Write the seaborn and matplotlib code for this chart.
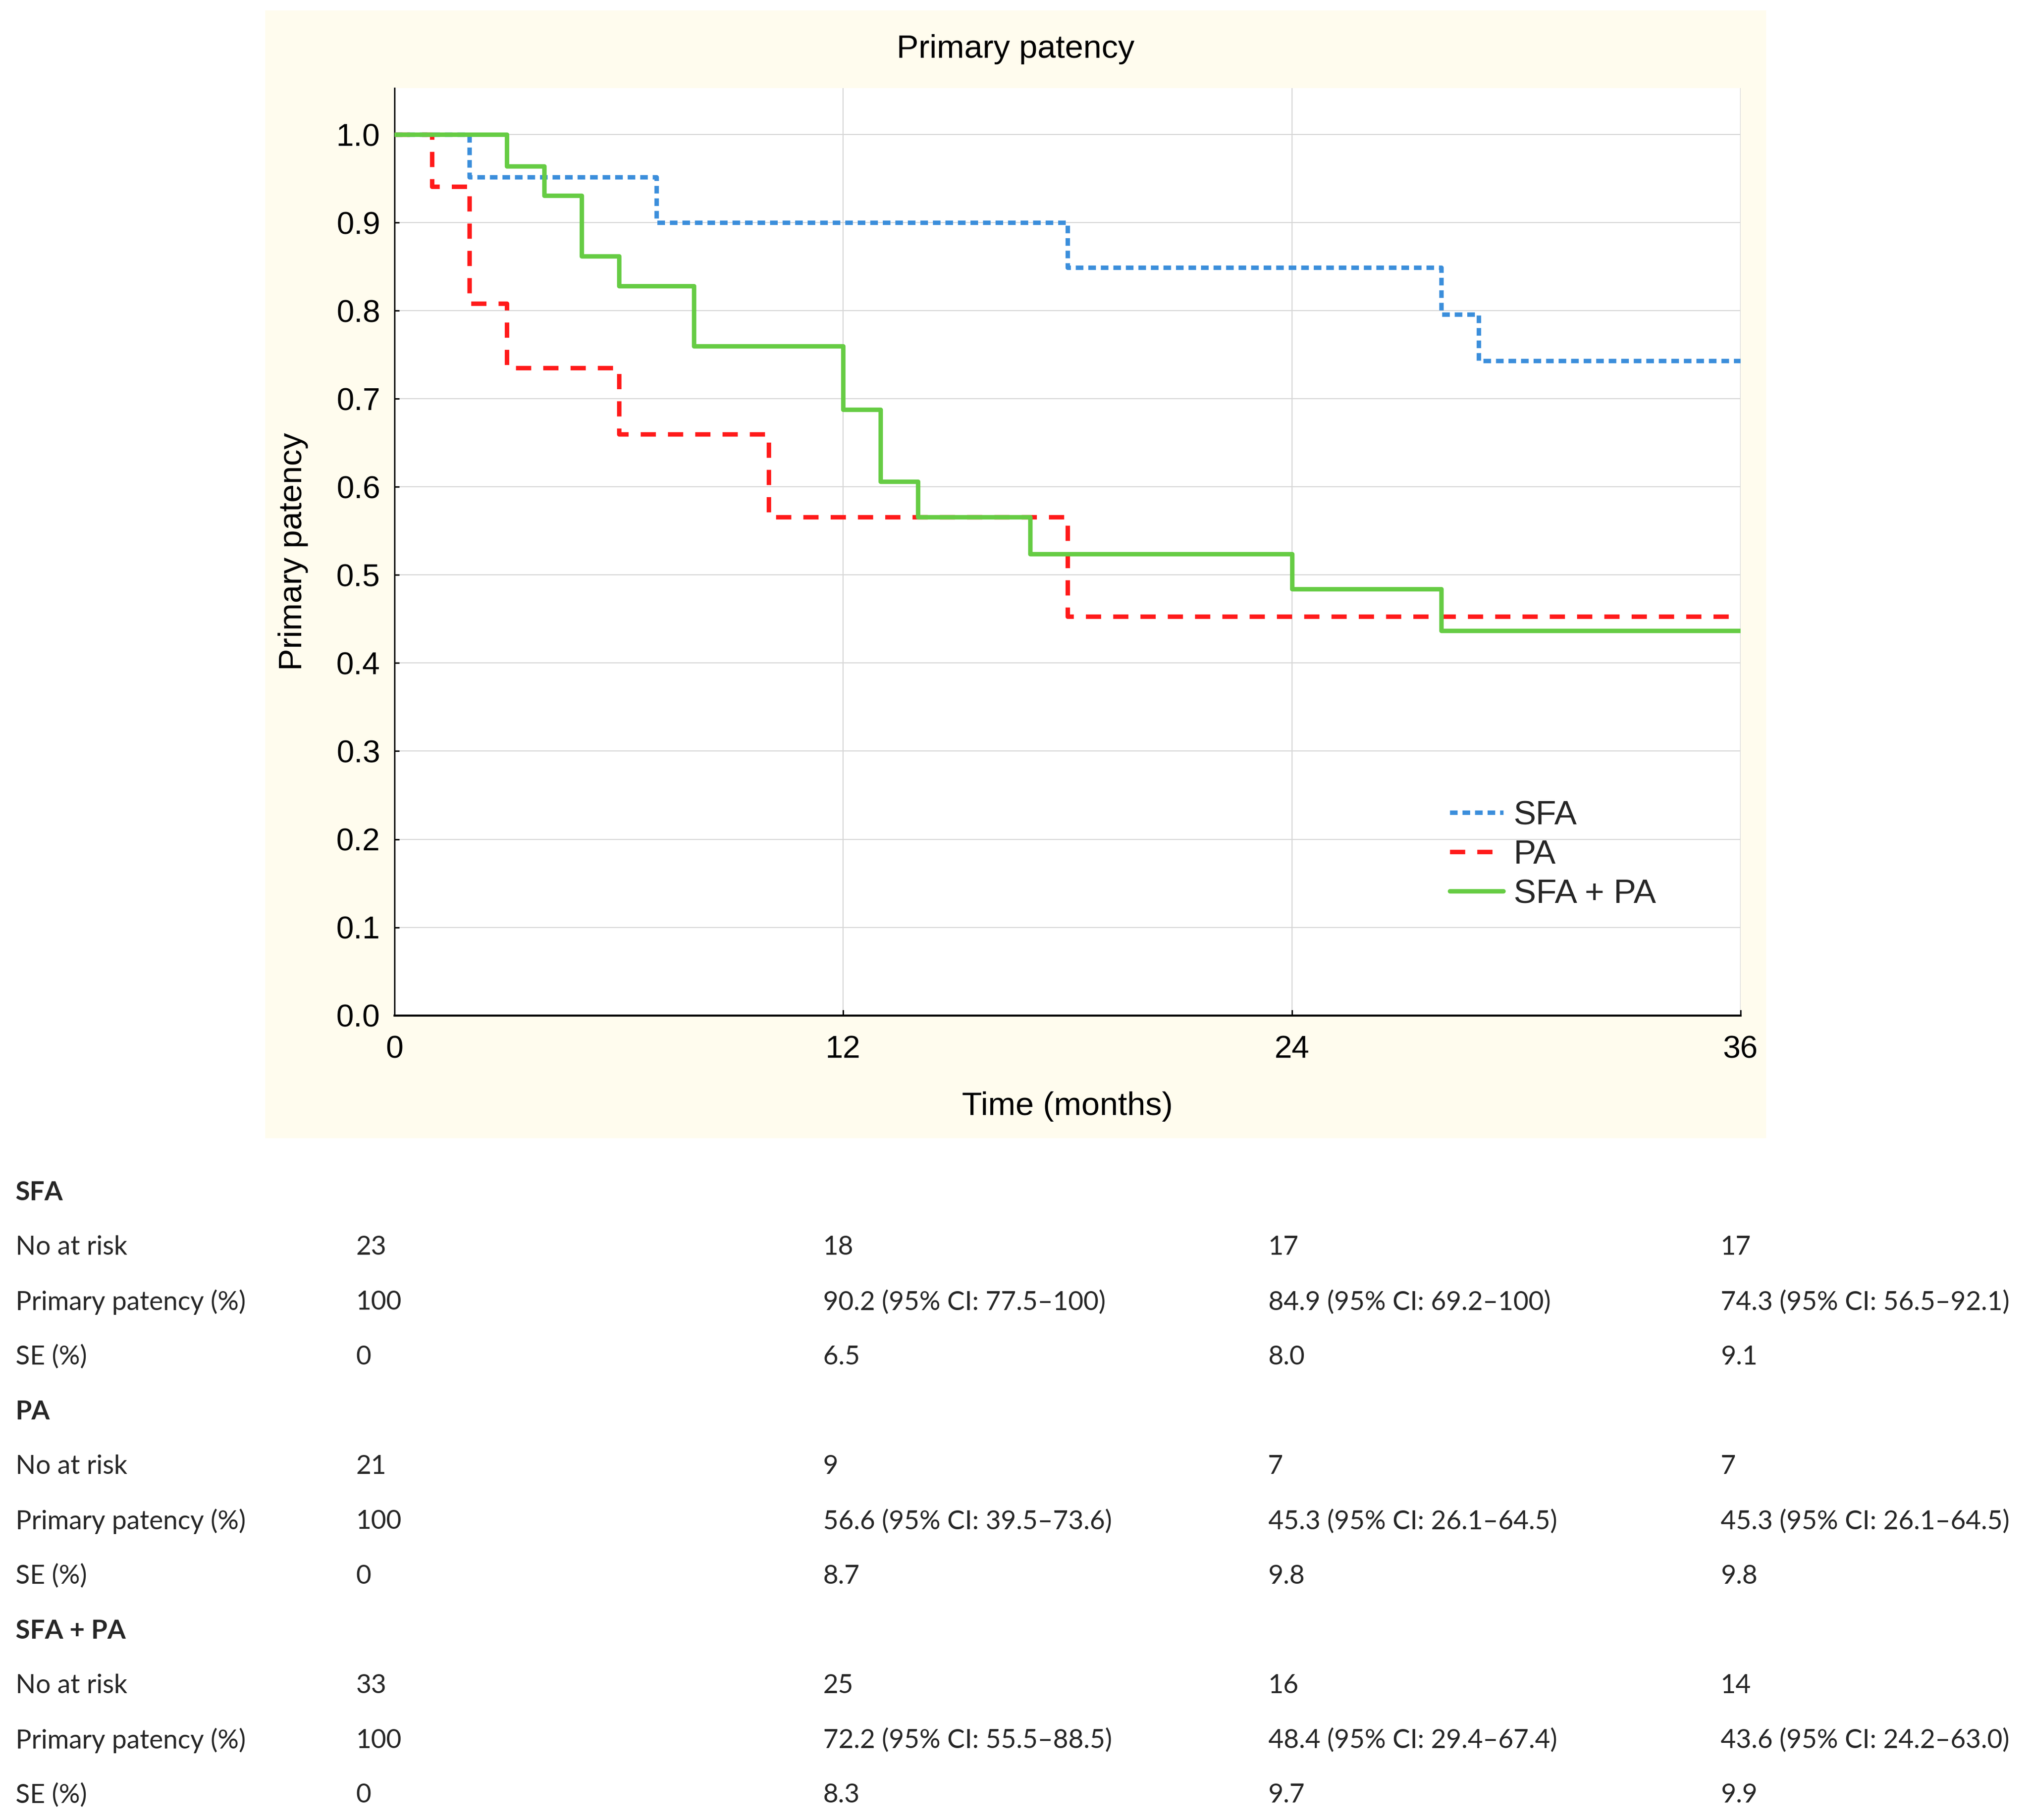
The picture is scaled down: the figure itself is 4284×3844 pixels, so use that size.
import pandas as pd
import matplotlib.pyplot as plt
import matplotlib.patches as mpatches
import seaborn as sns

# Kaplan-Meier step data (time in months, patency after each step)
sfa_time = [0, 2, 7, 18, 28, 29, 36]
sfa_surv = [1.0, 0.952, 0.900, 0.849, 0.796, 0.743, 0.743]

pa_time = [0, 1, 2, 3, 6, 10, 18, 36]
pa_surv = [1.0, 0.941, 0.808, 0.735, 0.660, 0.566, 0.453, 0.453]

both_time = [0, 3, 4, 5, 6, 8, 12, 13, 14, 17, 24, 28, 36]
both_surv = [1.0, 0.964, 0.931, 0.862, 0.828, 0.760, 0.688, 0.606, 0.566, 0.524, 0.484, 0.437, 0.437]

groups = ['SFA', 'PA', 'SFA + PA']
x_ticks = [0, 12, 24, 36]
y_ticks = [0.0, 0.1, 0.2, 0.3, 0.4, 0.5, 0.6, 0.7, 0.8, 0.9, 1.0]

# table under the chart
row_labels = ['No at risk', 'Primary patency (%)', 'SE (%)']
sfa_at_risk = ['23', '18', '17', '17']
sfa_patency = ['100', '90.2 (95% CI: 77.5\u2013100)', '84.9 (95% CI: 69.2\u2013100)', '74.3 (95% CI: 56.5\u201392.1)']
sfa_se = ['0', '6.5', '8.0', '9.1']
pa_at_risk = ['21', '9', '7', '7']
pa_patency = ['100', '56.6 (95% CI: 39.5\u201373.6)', '45.3 (95% CI: 26.1\u201364.5)', '45.3 (95% CI: 26.1\u201364.5)']
pa_se = ['0', '8.7', '9.8', '9.8']
both_at_risk = ['33', '25', '16', '14']
both_patency = ['100', '72.2 (95% CI: 55.5\u201388.5)', '48.4 (95% CI: 29.4\u201367.4)', '43.6 (95% CI: 24.2\u201363.0)']
both_se = ['0', '8.3', '9.7', '9.9']

df = pd.concat([
    pd.DataFrame({'time': sfa_time, 'surv': sfa_surv, 'group': 'SFA'}),
    pd.DataFrame({'time': pa_time, 'surv': pa_surv, 'group': 'PA'}),
    pd.DataFrame({'time': both_time, 'surv': both_surv, 'group': 'SFA + PA'}),
], ignore_index=True)

sns.set_theme(style='white')
plt.rcParams['font.family'] = ['Liberation Sans', 'DejaVu Sans']

fig = plt.figure(figsize=(42.84, 38.44), dpi=100, facecolor='white')

# beige panel behind the chart
fig.patches.append(mpatches.Rectangle((0.1307, 0.3746), 0.7398, 0.6197, transform=fig.transFigure,
                                      facecolor='#FFFCEE', edgecolor='none', zorder=-10))

ax = fig.add_axes([0.1945, 0.4421, 0.6633, 0.5096])
ax.set_zorder(2)
ax.set_facecolor('white')

palette = {'SFA': '#3B8EDB', 'PA': '#FF1A1A', 'SFA + PA': '#66CC44'}
dashes = {'SFA': (1.7, 1.1), 'PA': (3.4, 2.7), 'SFA + PA': ''}
sns.lineplot(data=df, x='time', y='surv', hue='group', style='group', hue_order=groups,
             style_order=groups, palette=palette, dashes=dashes, drawstyle='steps-post',
             estimator=None, linewidth=6.8, ax=ax, zorder=3)

ax.set_xlim(0, 36)
ax.set_ylim(0, 1.053)
ax.set_xticks(x_ticks)
ax.set_yticks(y_ticks)
ax.set_yticklabels([f'{v:.1f}' for v in y_ticks])
ax.grid(True, color='#D6D6D6', linewidth=1.6, zorder=0)
ax.set_axisbelow(True)
for s in ['top', 'right']:
    ax.spines[s].set_visible(False)
ax.spines['left'].set_color('black')
ax.spines['left'].set_linewidth(2.2)
ax.spines['bottom'].set_color('black')
ax.spines['bottom'].set_linewidth(3.2)
ax.tick_params(axis='y', direction='in', length=7, width=2.2, labelsize=48, pad=22, colors='black', left=True)
ax.tick_params(axis='x', direction='in', length=9, width=2.2, labelsize=48, pad=30, colors='black', bottom=True)

ax.set_xlabel('Time (months)', fontsize=50, color='black', family=['Liberation Sans'])
ax.set_ylabel('Primary patency', fontsize=50, color='black', family=['Liberation Sans'])
ax.xaxis.set_label_coords(0.5, -0.082)
ax.yaxis.set_label_coords(-0.064, 0.5)
fig.text(0.5006, 0.973, 'Primary patency', ha='center', va='center', fontsize=50, color='black',
         family=['Liberation Sans'])

sns.move_legend(ax, 'upper left', bbox_to_anchor=(0.784, 0.232), frameon=False, title=None,
                fontsize=51, handlelength=1.6, handletextpad=0.3, labelspacing=0.24,
                borderpad=0, borderaxespad=0)

# table of numbers at risk
tbl_font = ['Lato', 'DejaVu Sans']
col_x = [0.0077, 0.1754, 0.4056, 0.625, 0.848]
blocks = [
    ('SFA', [sfa_at_risk, sfa_patency, sfa_se]),
    ('PA', [pa_at_risk, pa_patency, pa_se]),
    ('SFA + PA', [both_at_risk, both_patency, both_se]),
]
row = 0
for name, rows in blocks:
    y = 1 - (922 + 42.36 * row) / 1407
    fig.text(col_x[0], y, name, ha='left', va='center', fontsize=40, fontweight='bold', family=tbl_font)
    row += 1
    for label, vals in zip(row_labels, rows):
        y = 1 - (922 + 42.36 * row) / 1407
        fig.text(col_x[0], y, label, ha='left', va='center', fontsize=40, family=tbl_font)
        for cx, v in zip(col_x[1:], vals):
            fig.text(cx, y, v, ha='left', va='center', fontsize=40, family=tbl_font)
        row += 1

fig.savefig('out.png', dpi=100, facecolor='white')
